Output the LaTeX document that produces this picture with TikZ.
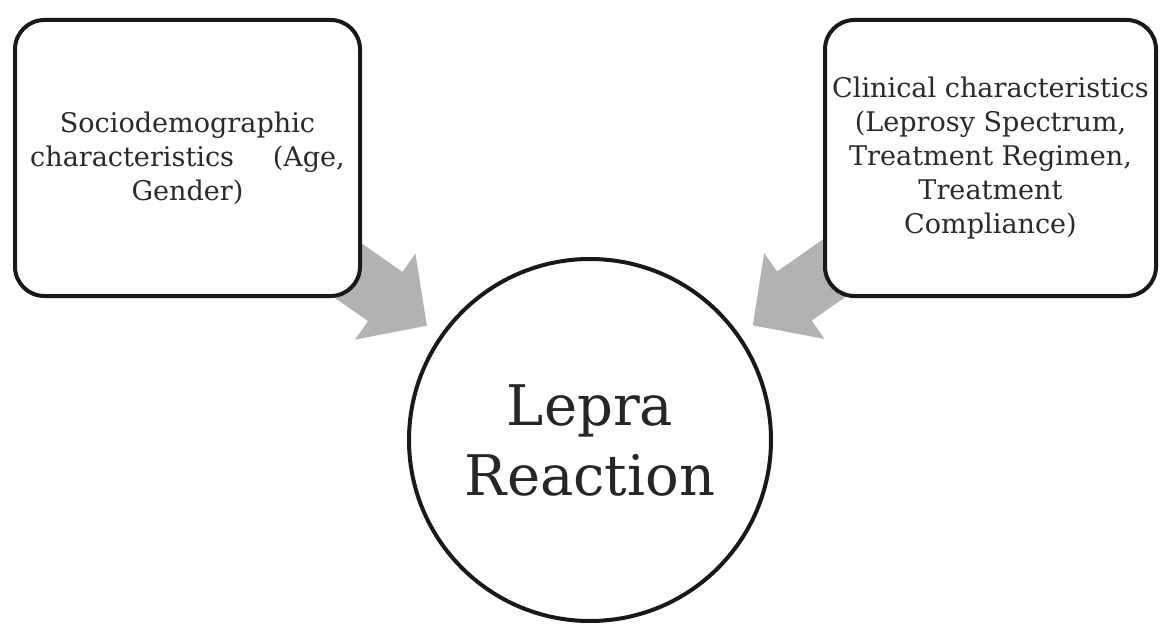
\documentclass[tikz,border=0pt]{standalone}
\usepackage{fontspec}
\setmainfont{DejaVu Serif}
\usetikzlibrary{arrows.meta,backgrounds}

\definecolor{arrowgray}{RGB}{177,178,180}
\definecolor{labelgray}{RGB}{42,42,42}

\begin{document}
\begin{tikzpicture}[x=0.75pt,y=-0.75pt,
    factorbox/.style={draw=black!90, line width=3pt, rounded corners=22pt, fill=white,
      minimum height=207pt, align=center, text=labelgray,
      font=\fontsize{20.3}{25.5}\selectfont},
    outcome/.style={circle, draw=black!90, line width=3pt, fill=white,
      minimum size=271.5pt, align=center, text=black!85,
      font=\fontsize{42}{52.5}\selectfont},
    bigarrow/.style={arrowgray, line width=45pt, shorten >=12pt,
      -{Triangle[width=76.5pt,length=38.25pt]}}]

    % Fix the page size
    \useasboundingbox (0,0) rectangle (1161,624);

    % Draw the two boxes of factors
    \node[factorbox, minimum width=258.75pt] (socio) at (187.5,158)
      {Sociodemographic\\ \makebox[236pt][s]{characteristics (Age,}\\ Gender)};
    \node[factorbox, minimum width=248.25pt] (clinical) at (990.5,158)
      {Clinical characteristics\\ (Leprosy Spectrum,\\ Treatment Regimen,\\ Treatment\\ Compliance)};

    % Draw the circle with the outcome
    \node[outcome] (lepra) at (590,440) {Lepra\\ Reaction};

    % Draw the grey arrows behind the boxes
    \begin{pgfonlayer}{background}
      \draw[bigarrow] (socio.center) -- (lepra);
      \draw[bigarrow] (clinical.center) -- (lepra);
    \end{pgfonlayer}
\end{tikzpicture}
\end{document}
